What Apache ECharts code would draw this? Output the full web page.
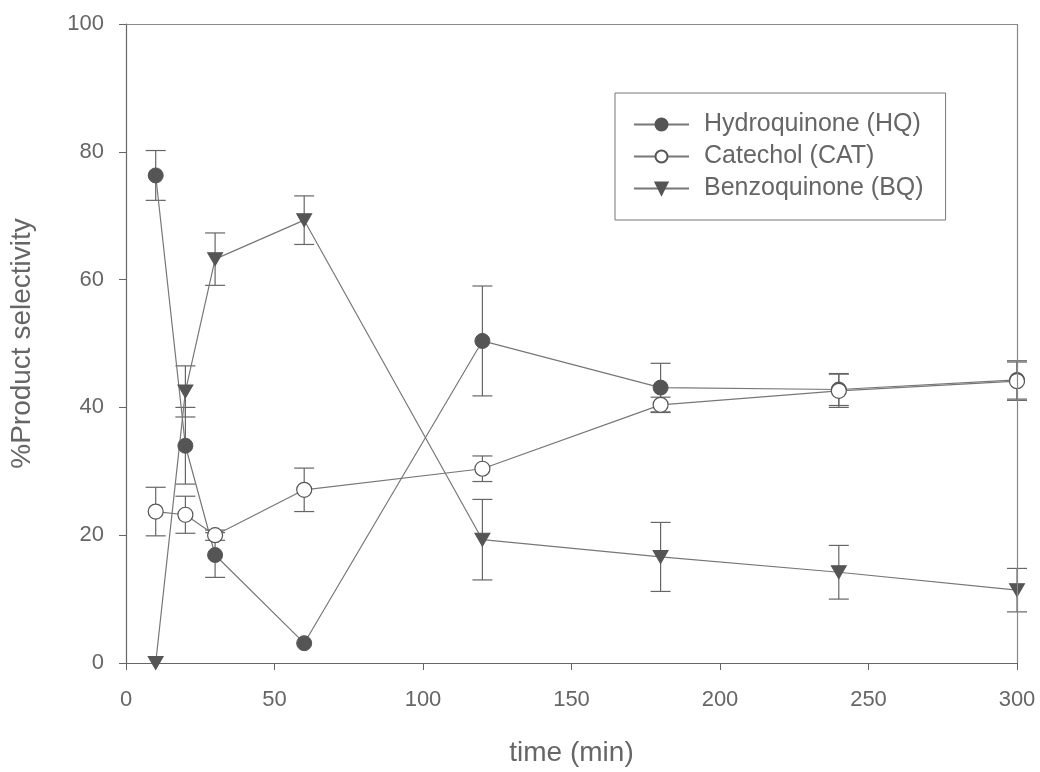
<!DOCTYPE html>
<html>
<head>
    <meta charset="utf-8">
    <title>Product selectivity</title>
    <script src="https://cdn.jsdelivr.net/npm/echarts@6/dist/echarts.min.js"></script>
    <style>
        html, body { margin: 0; padding: 0; background: #ffffff; }
        #chart { width: 1040px; height: 772px; }
    </style>
</head>
<body>
<div id="chart"></div>
<script>
    // 时间点 (min)
    var times = [10, 20, 30, 60, 120, 180, 240, 300];
    // 各产物选择性 (%)
    var hq = [76.3, 34.0, 16.9, 3.1, 50.4, 43.1, 42.8, 44.3];
    var hqErr = [3.9, 6.0, 3.5, 0, 8.6, 3.8, 2.5, 3.0];
    var cat = [23.7, 23.2, 20.0, 27.1, 30.4, 40.4, 42.6, 44.1];
    var catErr = [3.8, 2.9, 0.8, 3.4, 2.0, 1.2, 2.6, 3.0];
    var bq = [0, 42.5, 63.2, 69.3, 19.3, 16.6, 14.2, 11.4];
    var bqErr = [0, 4.0, 4.1, 3.8, 6.3, 5.4, 4.2, 3.4];

    var names = ['Hydroquinone (HQ)', 'Catechol (CAT)', 'Benzoquinone (BQ)'];

    function pairs(v) {
        return times.map(function (t, i) { return [t, v[i]]; });
    }
    function errData(v, e) {
        return times.map(function (t, i) { return [t, v[i] - e[i], v[i] + e[i]]; });
    }

    // 误差棒
    function renderErr(params, api) {
        var lo = api.coord([api.value(0), api.value(1)]);
        var hi = api.coord([api.value(0), api.value(2)]);
        if (Math.abs(hi[1] - lo[1]) < 1) return;
        var w = 10;
        var st = { stroke: '#666', lineWidth: 1.2 };
        return {
            type: 'group',
            children: [
                { type: 'line', shape: { x1: lo[0], y1: lo[1], x2: hi[0], y2: hi[1] }, style: st },
                { type: 'line', shape: { x1: lo[0] - w, y1: lo[1], x2: lo[0] + w, y2: lo[1] }, style: st },
                { type: 'line', shape: { x1: hi[0] - w, y1: hi[1], x2: hi[0] + w, y2: hi[1] }, style: st }
            ]
        };
    }

    var chart = echarts.init(document.getElementById('chart'));
    var lineStyle = { color: '#777', width: 1.2 };
    var textColor = '#666';
    var font = 'Liberation Sans, Arial, sans-serif';

    var option = {
        animation: false,
        textStyle: { fontFamily: font },
        grid: { left: 125, right: 23, top: 24, bottom: 107 },
        legend: {
            data: names,
            orient: 'vertical',
            left: 615,
            top: 93,
            padding: [19, 22, 19, 18],
            itemGap: 7,
            itemWidth: 55,
            itemHeight: 15,
            borderColor: '#777',
            borderWidth: 1,
            textStyle: { color: textColor, fontSize: 25, fontFamily: font, padding: [0, 0, 0, 10] }
        },
        xAxis: {
            type: 'value',
            min: 0, max: 300, interval: 50,
            name: 'time (min)',
            nameLocation: 'middle',
            nameGap: 76,
            nameTextStyle: { color: textColor, fontSize: 28 },
            axisLine: { show: true, lineStyle: { color: '#666', width: 1.2 } },
            axisTick: { show: true, length: 7, lineStyle: { color: '#666' } },
            axisLabel: { color: textColor, fontSize: 22, margin: 26 },
            splitLine: { show: false }
        },
        yAxis: {
            type: 'value',
            min: 0, max: 100, interval: 20,
            name: '%Product selectivity',
            nameLocation: 'middle',
            nameGap: 90,
            nameTextStyle: { color: textColor, fontSize: 28 },
            axisLine: { show: true, lineStyle: { color: '#666', width: 1.2 } },
            axisTick: { show: true, length: 7, lineStyle: { color: '#666' } },
            axisLabel: { color: textColor, fontSize: 22, margin: 22 },
            splitLine: { show: false }
        },
        series: [
            // 上右边框
            {
                type: 'line', data: [], silent: true,
                markLine: {
                    silent: true, symbol: 'none', label: { show: false },
                    lineStyle: { color: '#888', width: 1.2, type: 'solid' },
                    data: [[{ coord: [0, 100] }, { coord: [300, 100] }], [{ coord: [300, 0] }, { coord: [300, 100] }]]
                }
            },
            { type: 'custom', renderItem: renderErr, data: errData(hq, hqErr), z: 1, silent: true },
            { type: 'custom', renderItem: renderErr, data: errData(cat, catErr), z: 1, silent: true },
            { type: 'custom', renderItem: renderErr, data: errData(bq, bqErr), z: 1, silent: true },
            {
                name: names[0], type: 'line', data: pairs(hq),
                symbol: 'circle', symbolSize: 15, showAllSymbol: true,
                lineStyle: lineStyle,
                itemStyle: { color: '#555', borderColor: '#555', borderWidth: 1 },
                z: 3
            },
            {
                name: names[1], type: 'line', data: pairs(cat),
                symbol: 'circle', symbolSize: 15, showAllSymbol: true,
                lineStyle: lineStyle,
                itemStyle: { color: '#ffffff', borderColor: '#555', borderWidth: 1.2 },
                z: 4
            },
            {
                name: names[2], type: 'line', data: pairs(bq),
                symbol: 'triangle', symbolRotate: 180, symbolSize: [15, 13], showAllSymbol: true,
                lineStyle: lineStyle,
                itemStyle: { color: '#555', borderColor: '#555', borderWidth: 1 },
                z: 3
            }
        ]
    };

    chart.setOption(option);
</script>
</body>
</html>
